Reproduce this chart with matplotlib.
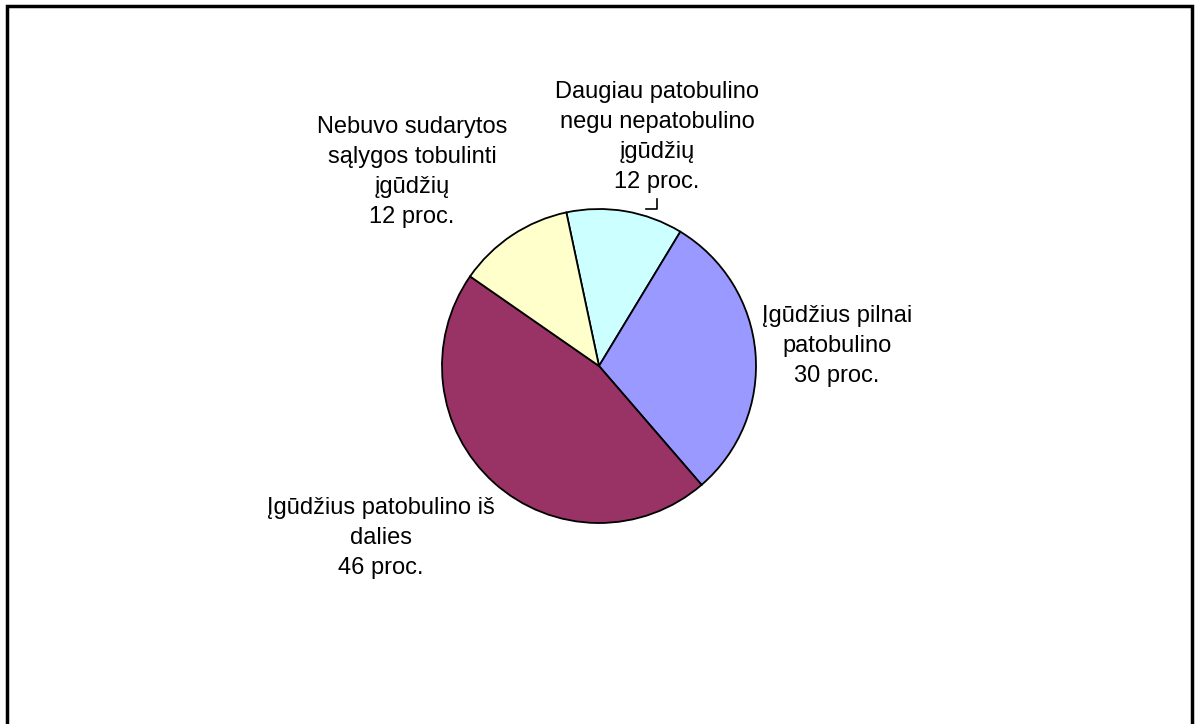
import matplotlib
matplotlib.use("Agg")
import matplotlib.pyplot as plt
from matplotlib.lines import Line2D

plt.rcParams['font.family'] = ['Liberation Sans', 'DejaVu Sans']

# Survey results (percent), clockwise from the top
labels = [
    "Daugiau patobulino\nnegu nepatobulino\nįgūdžių",
    "Įgūdžius pilnai\npatobulino",
    "Įgūdžius patobulino iš\ndalies",
    "Nebuvo sudarytos\nsąlygos tobulinti\nįgūdžių",
]
values = [12, 30, 46, 12]
colors = ["#CCFFFF", "#9999FF", "#993366", "#FFFFCC"]

W, H = 1195, 724
fig = plt.figure(figsize=(W / 100, H / 100), dpi=100)
ax = fig.add_axes([0, 0, 1, 1])

cx, cy, r = 599, H - 366, 157
ax.pie(values, colors=colors, startangle=102, counterclock=False,
       center=(cx, cy), radius=r, frame=True,
       wedgeprops=dict(edgecolor="black", linewidth=1.3))
ax.set_xlim(0, W)
ax.set_ylim(0, H)
ax.set_aspect("equal")
ax.axis("off")

# Data labels (pixel positions of each label block centre)
label_pos = [(657, 137), (837, 346), (381, 538), (412, 172)]
for lab, val, (x, y) in zip(labels, values, label_pos):
    ax.text(x, H - y, f"{lab}\n{val} proc.", ha="center", va="center",
            fontsize=17, linespacing=1.46, color="black")

# Leader line for the small top slice
ax.add_line(Line2D([657, 657, 646], [H - 199, H - 209, H - 209],
                   color="black", linewidth=1.2))

# Chart area border
fig.add_artist(plt.Rectangle((7 / W, -0.02), (1192 - 7) / W, (H - 6) / H + 0.02,
                             transform=fig.transFigure, fill=False,
                             edgecolor="black", linewidth=2.5))

fig.savefig("out.png", dpi=100, facecolor="white")
